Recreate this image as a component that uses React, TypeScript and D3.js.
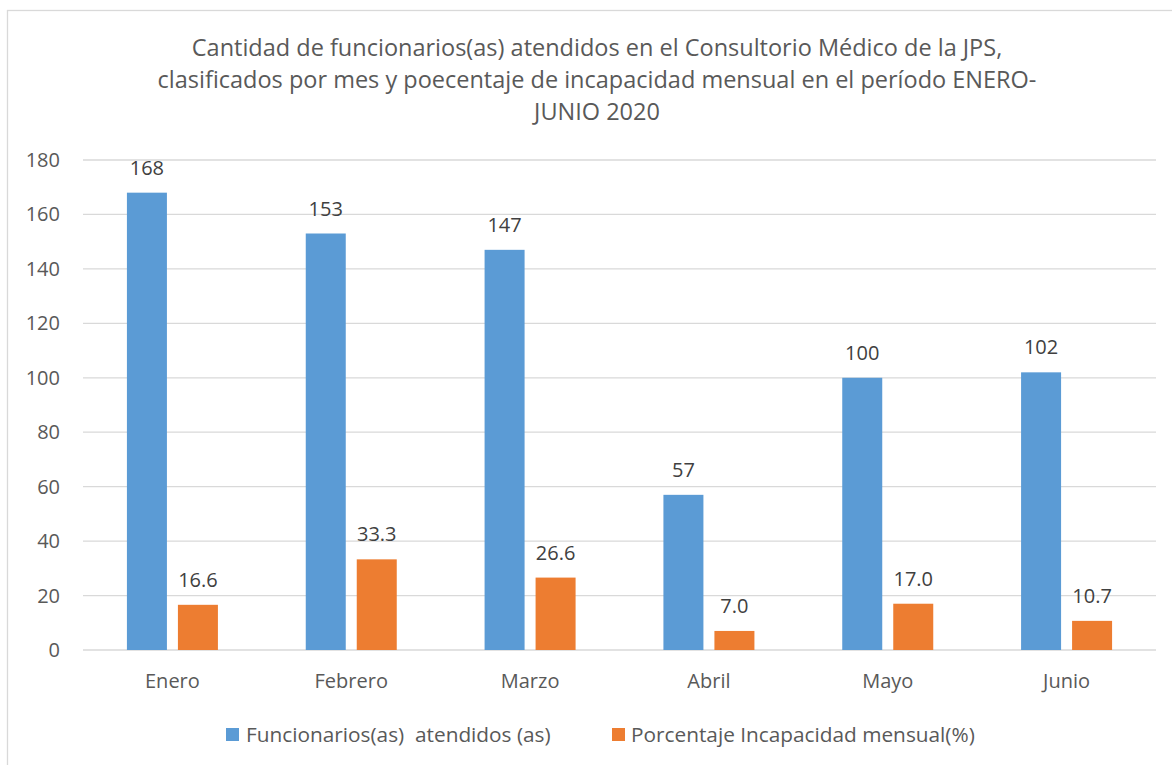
import React from "react";
import * as d3 from "d3";

const months = ["Enero", "Febrero", "Marzo", "Abril", "Mayo", "Junio"];
const attended = [168, 153, 147, 57, 100, 102];
const incapacity = [16.6, 33.3, 26.6, 7.0, 17.0, 10.7];
const yTicks = [0, 20, 40, 60, 80, 100, 120, 140, 160, 180];
const titleLines = [
  "Cantidad de funcionarios(as) atendidos en el Consultorio Médico de la JPS,",
  "clasificados por mes y poecentaje de incapacidad mensual en el período ENERO-",
  "JUNIO 2020",
];
const legendLabels = ["Funcionarios(as)  atendidos (as)", "Porcentaje Incapacidad mensual(%)"];

const BLUE = "#5b9bd5";
const ORANGE = "#ed7d31";
const FONT = "'Open Sans', sans-serif";

export default function App() {
  const W = 1172;
  const H = 765;
  const x = d3.scaleBand<string>().domain(months).range([83, 1156]).padding(0);
  const y = d3.scaleLinear().domain([0, 180]).range([650, 160]);
  const barW = 40;
  const gap = 11;
  const cx = (m: string) => (x(m) as number) + x.bandwidth() / 2;

  return (
    <svg
      width={W}
      height={H}
      style={{ position: "absolute", left: 0, top: 0, background: "#fff" }}
      fontFamily={FONT}
    >
      <rect x={7.5} y={10.5} width={1300} height={900} fill="#fff" stroke="#d9d9d9" strokeWidth={1.3} />
      {titleLines.map((t, i) => (
        <text key={i} x={597} y={56 + i * 32} textAnchor="middle" fontSize={23.5} fill="#595959">
          {t}
        </text>
      ))}
      {yTicks.map((t) => (
        <g key={t}>
          <line x1={83} x2={1156} y1={y(t)} y2={y(t)} stroke="#d9d9d9" strokeWidth={1.3} />
          <text x={60} y={y(t) + 7} textAnchor="end" fontSize={20} fill="#595959">
            {t}
          </text>
        </g>
      ))}
      {months.map((m, i) => (
        <g key={m}>
          <rect x={cx(m) - gap / 2 - barW} y={y(attended[i])} width={barW} height={y(0) - y(attended[i])} fill={BLUE} />
          <rect x={cx(m) + gap / 2} y={y(incapacity[i])} width={barW} height={y(0) - y(incapacity[i])} fill={ORANGE} />
          <text x={cx(m) - gap / 2 - barW / 2} y={y(attended[i]) - 18} textAnchor="middle" fontSize={20} fill="#404040">
            {attended[i]}
          </text>
          <text x={cx(m) + gap / 2 + barW / 2} y={y(incapacity[i]) - 18} textAnchor="middle" fontSize={20} fill="#404040">
            {incapacity[i].toFixed(1)}
          </text>
          <text x={cx(m)} y={688} textAnchor="middle" fontSize={20} fill="#595959">
            {m}
          </text>
        </g>
      ))}
      <rect x={226} y={728} width={13} height={13} fill={BLUE} />
      <text x={246} y={742} fontSize={20.8} fill="#595959" style={{ whiteSpace: "pre" }}>{legendLabels[0]}</text>
      <rect x={612} y={728} width={13} height={13} fill={ORANGE} />
      <text x={631} y={742} fontSize={20.8} fill="#595959" style={{ whiteSpace: "pre" }}>{legendLabels[1]}</text>
    </svg>
  );
}
